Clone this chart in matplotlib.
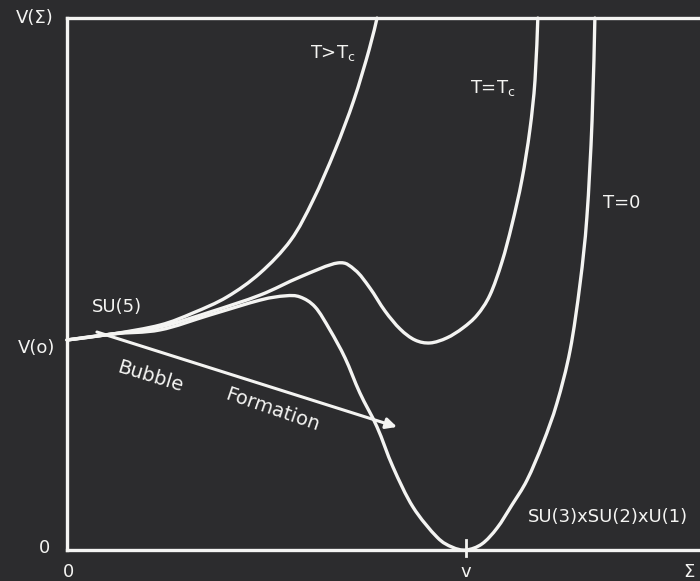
import matplotlib
matplotlib.use("Agg")
import matplotlib.pyplot as plt
import numpy as np
from matplotlib.path import Path
from matplotlib.patches import PathPatch

# Effective potential V(Σ) for the SU(5) Higgs field at three temperatures.
# Σ in units of the vacuum value v, V in units of V(0).
sigma_hot = [0, 0.115, 0.233, 0.316, 0.401, 0.484, 0.561, 0.617, 0.672, 0.719, 0.757, 0.777]
v_hot = [1.0, 1.029, 1.071, 1.129, 1.205, 1.319, 1.476, 1.667, 1.905, 2.143, 2.381, 2.533]

sigma_crit = [0, 0.115, 0.233, 0.358, 0.484, 0.584, 0.679, 0.722, 0.759, 0.797, 0.835,
              0.872, 0.910, 0.952, 0.992, 1.028, 1.060, 1.090, 1.115, 1.140, 1.160,
              1.173, 1.180]
v_crit = [1.0, 1.029, 1.062, 1.133, 1.214, 1.300, 1.367, 1.333, 1.248, 1.138, 1.052,
          1.0, 0.986, 1.010, 1.057, 1.119, 1.214, 1.371, 1.548, 1.762, 2.0, 2.238, 2.533]

sigma_zero = [0, 0.115, 0.233, 0.358, 0.484, 0.546, 0.584, 0.622, 0.659, 0.697, 0.734,
              0.777, 0.817, 0.867, 0.927, 0.965, 1.0, 1.040, 1.078, 1.115, 1.153, 1.193,
              1.228, 1.261, 1.286, 1.303, 1.316, 1.323]
v_zero = [1.0, 1.029, 1.048, 1.119, 1.190, 1.210, 1.205, 1.157, 1.048, 0.914, 0.748,
          0.586, 0.395, 0.205, 0.062, 0.014, 0.0, 0.029, 0.105, 0.214, 0.333, 0.510,
          0.700, 0.952, 1.271, 1.586, 2.048, 2.533]

curve_labels = ["T>T$_\\mathrm{c}$", "T=T$_\\mathrm{c}$", "T=0"]
curve_label_pos = [(0.667, 2.367), (1.068, 2.20), (1.391, 1.652)]

bubble_start = (0.075, 1.038)
bubble_end = (0.827, 0.586)

board = "#2c2c2e"
chalk = "#f4f4f2"


def smooth_path(xs, ys):
    """Cubic Bezier path through the given points (Catmull-Rom tangents)."""
    p = np.column_stack([xs, ys]).astype(float)
    n = len(p)
    verts = [p[0]]
    codes = [Path.MOVETO]
    for i in range(n - 1):
        p0 = p[i - 1] if i > 0 else p[i]
        p1, p2 = p[i], p[i + 1]
        p3 = p[i + 2] if i + 2 < n else p[i + 1]
        c1 = p1 + (p2 - p0) / 6.0
        c2 = p2 - (p3 - p1) / 6.0
        verts += [c1, c2, p2]
        codes += [Path.CURVE4] * 3
    return Path(verts, codes)


fig = plt.figure(figsize=(7.0, 5.81), dpi=100, facecolor=board)
ax = fig.add_axes([67 / 700, 31 / 581, 633 / 700, 532 / 581], facecolor=board)
ax.set_xlim(0, 633 / 399)
ax.set_ylim(0, 532 / 210)

lw = 2.4
for xs, ys in [(sigma_hot, v_hot), (sigma_crit, v_crit), (sigma_zero, v_zero)]:
    ax.add_patch(PathPatch(smooth_path(xs, ys), facecolor="none", edgecolor=chalk, lw=lw,
                           capstyle="round", joinstyle="round", clip_on=False))

for side in ["left", "top", "bottom"]:
    ax.spines[side].set_color(chalk)
    ax.spines[side].set_linewidth(lw)
ax.spines["right"].set_visible(False)
ax.set_xticks([])
ax.set_yticks([])

# tick mark at the vacuum value v
ax.plot([1.0, 1.0], [-0.03, 0.05], color=chalk, lw=2.0, clip_on=False)

fs = 13
for text, (x, y) in zip(curve_labels, curve_label_pos):
    ax.text(x, y, text, color=chalk, fontsize=fs, ha="center", va="center")

ax.text(0.125, 1.157, "SU(5)", color=chalk, fontsize=fs, ha="center", va="center")
ax.text(1.356, 0.157, "SU(3)xSU(2)xU(1)", color=chalk, fontsize=fs, ha="center", va="center")

ax.annotate("", xy=bubble_end, xytext=bubble_start,
            arrowprops=dict(arrowstyle="-|>", color=chalk, lw=2.2, mutation_scale=16,
                            shrinkA=0, shrinkB=0))
ax.text(0.208, 0.824, "Bubble", color=chalk, fontsize=14, ha="center", va="center",
        rotation=-17)
ax.text(0.514, 0.667, "Formation", color=chalk, fontsize=14, ha="center", va="center",
        rotation=-19)

# axis annotations
fig.text(35 / 700, 1 - 18 / 581, "V(Σ)", color=chalk, fontsize=fs, ha="center", va="center")
fig.text(37 / 700, 1 - 348 / 581, "V(o)", color=chalk, fontsize=fs, ha="center", va="center")
fig.text(45 / 700, 1 - 548 / 581, "0", color=chalk, fontsize=fs, ha="center", va="center")
fig.text(69 / 700, 1 - 572 / 581, "0", color=chalk, fontsize=fs, ha="center", va="center")
fig.text(466 / 700, 1 - 572 / 581, "v", color=chalk, fontsize=fs, ha="center", va="center")
fig.text(689 / 700, 1 - 572 / 581, "Σ", color=chalk, fontsize=fs, ha="center", va="center")

fig.savefig("out.png", dpi=100, facecolor=board)
